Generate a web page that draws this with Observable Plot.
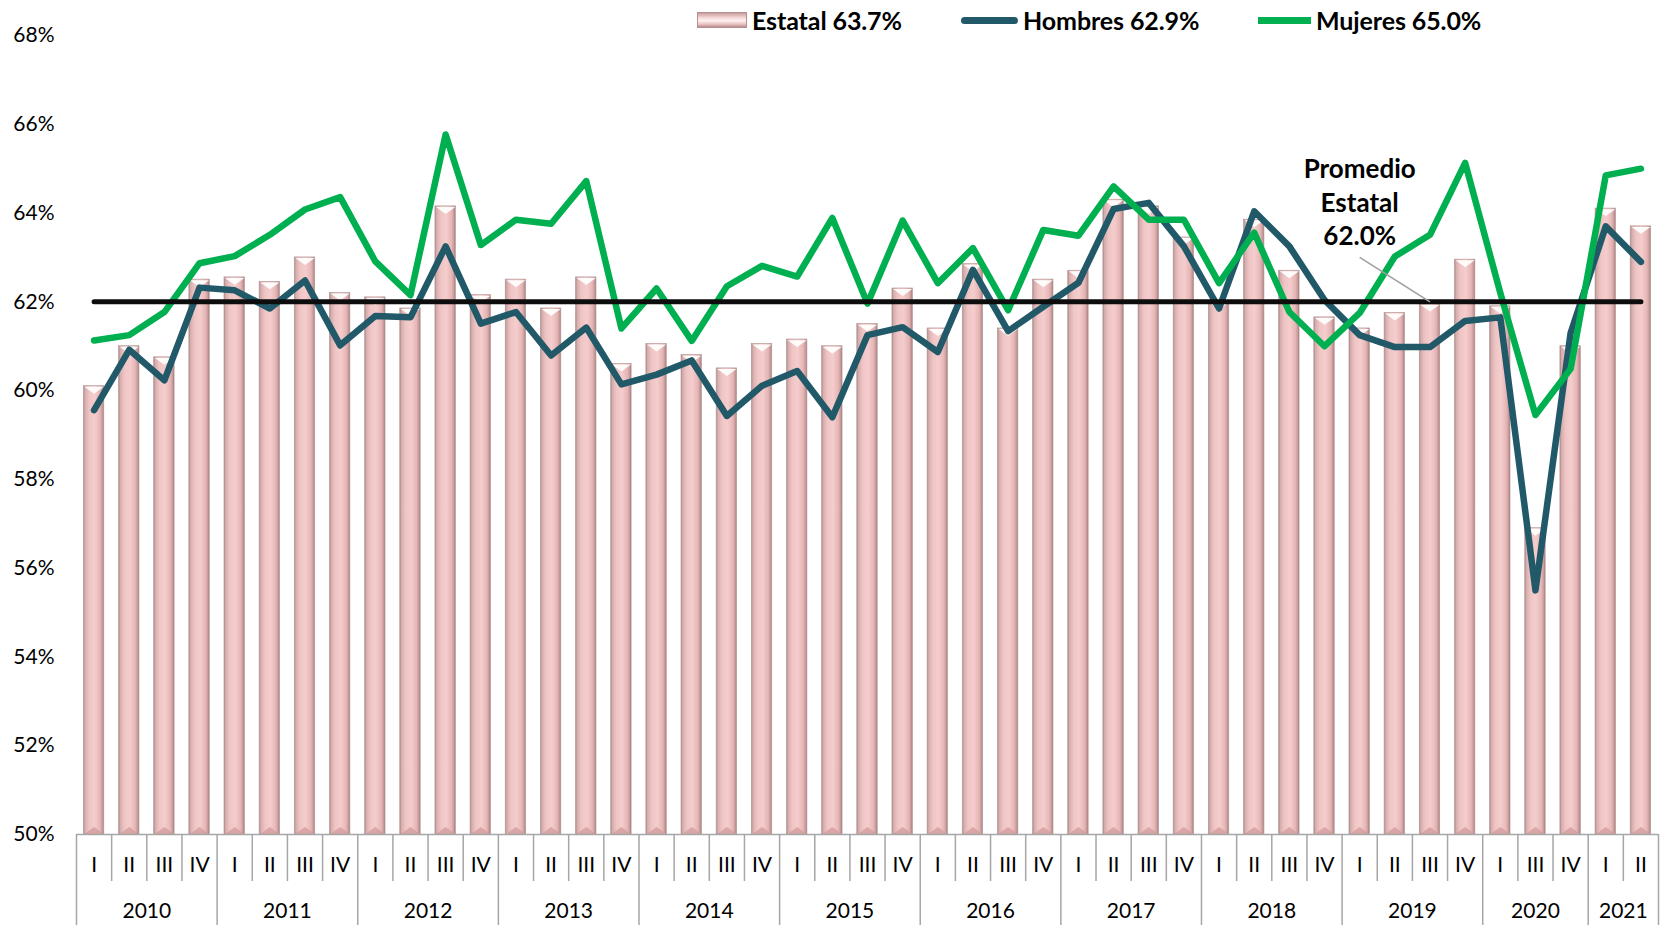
<!DOCTYPE html>
<html>
<head>
<meta charset="utf-8">
<script src="https://cdn.jsdelivr.net/npm/d3@7"></script>
<script src="https://cdn.jsdelivr.net/npm/@observablehq/plot@0.6"></script>
<style>
  html, body { margin: 0; padding: 0; background: #fff; }
  #wrap { position: relative; width: 1660px; height: 925px; font-family: Lato, "Open Sans", sans-serif; }
  #legend { position: absolute; top: 0; left: 0; width: 1660px; height: 42px; z-index: 2; }
  .item { position: absolute; top: 3px; height: 34px; display: flex; align-items: center; font-weight: 700; font-size: 25px; color: #000; white-space: nowrap; letter-spacing: -0.1px; }
  .sw { margin-right: 5px; }
  .sw-bar { width: 48px; height: 14px; border: 1px solid #b58f8f; background: linear-gradient(to bottom, #c99e9e 0%, #f6dada 35%, #fdf2f2 55%, #e9c2c2 80%, #b98d8d 100%); }
  .sw-h { width: 57px; height: 7px; border-radius: 4px; background: #215968; }
  .sw-m { width: 53px; height: 7px; background: #00b050; }
</style>
</head>
<body>
<div id="wrap">
  <div id="legend">
    <div class="item" style="left:697px"><div class="sw sw-bar"></div>Estatal 63.7%</div>
    <div class="item" style="left:961px"><div class="sw sw-h"></div>Hombres 62.9%</div>
    <div class="item" style="left:1258px"><div class="sw sw-m"></div>Mujeres 65.0%</div>
  </div>
  <div id="chart"></div>
</div>
<script>
// ---- data ----
const years = ["2010","2011","2012","2013","2014","2015","2016","2017","2018","2019","2020","2021"];
const quartersByYear = [
  ["I","II","III","IV"], ["I","II","III","IV"], ["I","II","III","IV"], ["I","II","III","IV"],
  ["I","II","III","IV"], ["I","II","III","IV"], ["I","II","III","IV"], ["I","II","III","IV"],
  ["I","II","III","IV"], ["I","II","III","IV"], ["I","III","IV"], ["I","II"]
];
const estatal = [
  60.1, 61.0, 60.75, 62.5,
  62.55, 62.45, 63.0, 62.2,
  62.1, 61.85, 64.15, 62.15,
  62.5, 61.85, 62.55, 60.6,
  61.05, 60.8, 60.5, 61.05,
  61.15, 61.0, 61.5, 62.3,
  61.4, 62.85, 61.4, 62.5,
  62.7, 64.3, 64.15, 63.45,
  62.0, 63.85, 62.7, 61.65,
  61.4, 61.75, 61.95, 62.95,
  61.9, 56.9, 61.0,
  64.1, 63.7
];
const hombres = [
  59.56, 60.92, 60.23, 62.32,
  62.26, 61.85, 62.48, 61.02,
  61.68, 61.65, 63.25, 61.51,
  61.77, 60.79, 61.42, 60.14,
  60.36, 60.68, 59.43, 60.11,
  60.44, 59.40, 61.25, 61.43,
  60.87, 62.72, 61.34, 61.89,
  62.43, 64.09, 64.23, 63.25,
  61.85, 64.04, 63.25, 62.04,
  61.25, 60.98, 60.98, 61.57,
  61.65, 55.5, 61.3,
  63.70, 62.9
];
const mujeres = [
  61.13, 61.25, 61.77, 62.87,
  63.03, 63.51, 64.08, 64.36,
  62.91, 62.15, 65.77, 63.28,
  63.85, 63.76, 64.72, 61.40,
  62.30, 61.12, 62.35, 62.81,
  62.57, 63.89, 61.96, 63.83,
  62.42, 63.21, 61.81, 63.62,
  63.49, 64.60, 63.85, 63.85,
  62.42, 63.56, 61.77, 61.0,
  61.75, 63.02, 63.51, 65.13,
  62.2, 59.45, 60.49,
  64.85, 65.0
];
const promedio = 62.0;
const yTicks = [50, 52, 54, 56, 58, 60, 62, 64, 66, 68];
const promedioLabel = ["Promedio", "Estatal", "62.0%"];

// ---- derived tables ----
const rows = [];
const yearRows = [];
const bounds = [];
quartersByYear.forEach((qs, yi) => {
  const start = rows.length;
  qs.forEach((q, qi) => {
    const i = rows.length;
    rows.push({i, q, year: years[yi], estatal: estatal[i], hombres: hombres[i], mujeres: mujeres[i]});
    bounds.push({x: i - 0.5, major: qi === 0});
  });
  yearRows.push({year: years[yi], x: (start + rows.length - 1) / 2});
});
bounds.push({x: rows.length - 0.5, major: true});
const n = rows.length;
const labelIdx = rows.findIndex(d => d.year === "2019" && d.q === "I");
const pointIdx = rows.findIndex(d => d.year === "2019" && d.q === "III");

const topBevel = {draw(ctx) { ctx.moveTo(-9.6, 0.6); ctx.lineTo(9.6, 0.6); ctx.lineTo(0, 7.5); ctx.closePath(); }};
const bottomBevel = {draw(ctx) { ctx.moveTo(-9.6, -0.6); ctx.lineTo(9.6, -0.6); ctx.lineTo(0, -7.5); ctx.closePath(); }};

const chart = Plot.plot({
  width: 1660,
  height: 925,
  marginLeft: 76,
  marginRight: 2,
  marginTop: 35,
  marginBottom: 91,
  style: {fontFamily: "Lato, 'Open Sans', sans-serif", fontSize: "21px", color: "#000", background: "transparent"},
  x: {type: "linear", domain: [-0.5, n - 0.5], axis: null},
  y: {domain: [50, 68]},
  marks: [
    Plot.axisY({ticks: yTicks, tickFormat: d => d + "%", tickSize: 0, tickPadding: 22, fontSize: 21, label: null, fill: "#000"}),
    Plot.rectY(rows, {x1: d => d.i - 0.29, x2: d => d.i + 0.29, y1: () => 50, y2: "estatal",
      fill: "url(#barGrad)", stroke: "#b89a9a", strokeWidth: 0.7}),
    Plot.dot(rows, {x: "i", y: "estatal", symbol: topBevel, r: 5, fill: "#ffffff", fillOpacity: 0.92, stroke: "none"}),
    Plot.dot(rows, {x: "i", y: () => 50, symbol: bottomBevel, r: 5, fill: "#d39c9c", fillOpacity: 0.8, stroke: "none"}),
    Plot.ruleY([50], {stroke: "#a6a6a6", strokeWidth: 1.5}),
    Plot.ruleX(bounds.filter(d => !d.major), {x: "x", y1: () => 50, y2: () => 50, insetBottom: -47, stroke: "#a6a6a6", strokeWidth: 1.5}),
    Plot.ruleX(bounds.filter(d => d.major), {x: "x", y1: () => 50, y2: () => 50, insetBottom: -92, stroke: "#a6a6a6", strokeWidth: 1.5}),
    Plot.text(rows, {x: "i", frameAnchor: "bottom", dy: 37, text: "q", fontSize: 21, fill: "#000"}),
    Plot.text(yearRows, {x: "x", frameAnchor: "bottom", dy: 83, text: "year", fontSize: 21, fill: "#000"}),
    Plot.line(rows, {x: "i", y: "hombres", stroke: "#215968", strokeWidth: 6.5, strokeLinejoin: "round", strokeLinecap: "round"}),
    Plot.line(rows, {x: "i", y: "mujeres", stroke: "#00b050", strokeWidth: 6.5, strokeLinejoin: "round", strokeLinecap: "round"}),
    Plot.line(rows, {x: "i", y: () => promedio, stroke: "#0d0d0d", strokeWidth: 5, strokeLinecap: "round"}),
    Plot.link([promedio], {x1: () => labelIdx, y1: d => d + 1.0, x2: () => pointIdx, y2: d => d, stroke: "#a0a0a0", strokeWidth: 1.6}),
    Plot.text([promedioLabel.join("\n")], {x: () => labelIdx, y: () => promedio, dy: -101, text: d => d,
      fontSize: 26, fontWeight: 700, lineHeight: 1.3, fill: "#000", textAnchor: "middle"})
  ]
});

const ns = "http://www.w3.org/2000/svg";
const defs = document.createElementNS(ns, "defs");
const grad = document.createElementNS(ns, "linearGradient");
grad.setAttribute("id", "barGrad");
grad.setAttribute("x1", "0"); grad.setAttribute("y1", "0");
grad.setAttribute("x2", "1"); grad.setAttribute("y2", "0");
[[0, "#a88585"], [0.08, "#d6adad"], [0.28, "#efc4c4"], [0.55, "#f5cdcd"], [0.82, "#e6b6b6"], [0.93, "#c89a9a"], [1, "#9a7878"]].forEach(([o, c]) => {
  const s = document.createElementNS(ns, "stop");
  s.setAttribute("offset", o); s.setAttribute("stop-color", c);
  grad.appendChild(s);
});
defs.appendChild(grad);
chart.insertBefore(defs, chart.firstChild);
chart.style.position = "absolute";
chart.style.left = "0"; chart.style.top = "0";
document.getElementById("chart").appendChild(chart);
</script>
</body>
</html>
